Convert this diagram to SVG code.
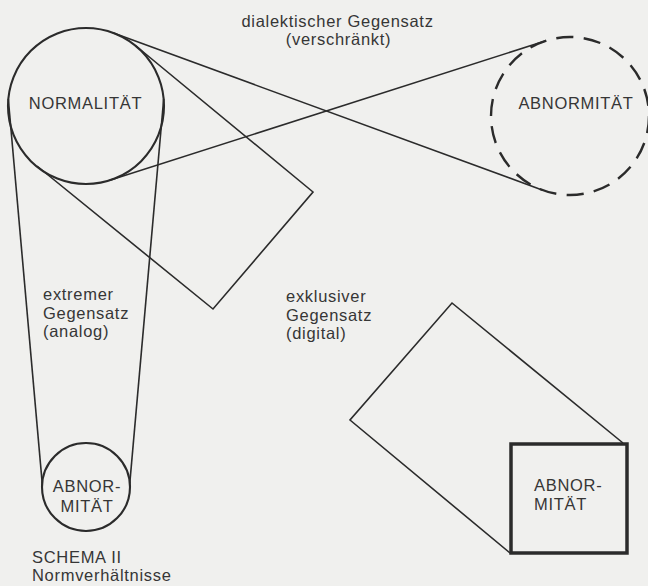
<svg xmlns="http://www.w3.org/2000/svg" width="648" height="586" viewBox="0 0 648 586">
<style>
.ln{fill:none;stroke:#2b2b2b;stroke-width:1.6;stroke-linejoin:miter}
.nd{fill:none;stroke:#2b2b2b;stroke-width:2.1}
.dash{fill:none;stroke:#2b2b2b;stroke-width:2.4;stroke-dasharray:12.5 7.5}
.sq{fill:none;stroke:#2b2b2b;stroke-width:3.5}
text{font-family:"Liberation Sans",Arial,Helvetica,sans-serif;font-size:16.5px;letter-spacing:0.7px;fill:#363636}
.c{text-anchor:middle}
</style>
<rect width="648" height="586" fill="#f0f0ee"/>
<g id="connectors">
<line class="ln" x1="112.8" y1="32.8" x2="542.8" y2="190.2"/>
<line class="ln" x1="109.8" y1="180.3" x2="545.9" y2="40.8"/>
<line class="ln" x1="8.3" y1="99" x2="42.2" y2="483.1"/>
<line class="ln" x1="163.7" y1="99" x2="129.8" y2="483.1"/>
<polyline class="ln" points="136,46 313,192 213,309 37,166"/>
<polyline class="ln" points="623,443 452,303 350,420 510,553"/>
</g>
<g id="normalitaet">
<circle class="nd" cx="86" cy="106" r="78"/>
<text class="c" x="85.5" y="109">NORMALITÄT</text>
</g>
<g id="abnormitaet-dialektisch">
<circle class="dash" cx="570" cy="116" r="79" pathLength="360"/>
<text class="c" x="576" y="109">ABNORMITÄT</text>
</g>
<g id="abnormitaet-analog">
<circle class="nd" cx="86" cy="487" r="44"/>
<text class="c" x="87" y="491.5">ABNOR-</text>
<text class="c" x="87" y="512">MITÄT</text>
</g>
<g id="abnormitaet-digital">
<rect class="sq" x="511" y="444" width="116" height="109"/>
<text x="534" y="491">ABNOR-</text>
<text x="534" y="509.6">MITÄT</text>
</g>
<g id="labels">
<text class="c" x="337.5" y="26.8">dialektischer Gegensatz</text>
<text class="c" x="338.5" y="45.4">(verschränkt)</text>
<text x="43" y="300">extremer</text>
<text x="43" y="318.6">Gegensatz</text>
<text x="43" y="337.2">(analog)</text>
<text x="286" y="302">exklusiver</text>
<text x="286" y="320.6">Gegensatz</text>
<text x="286" y="339.2">(digital)</text>
<text x="32" y="562.6">SCHEMA II</text>
<text x="32" y="581.2">Normverhältnisse</text>
</g>
</svg>
